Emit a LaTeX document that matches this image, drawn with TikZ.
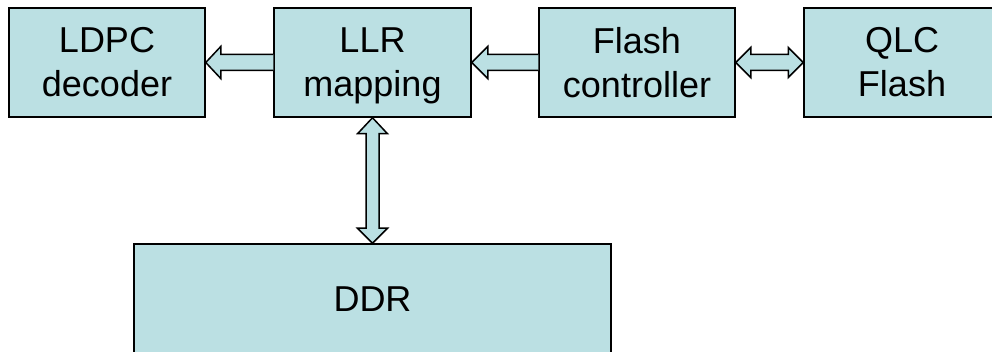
\documentclass[tikz,border=0pt]{standalone}
\usepackage{fontspec}
\setmainfont{Liberation Sans}
\usetikzlibrary{calc}
\definecolor{boxfill}{RGB}{187,224,227}
\begin{document}
\begin{tikzpicture}[x=1pt,y=-1pt,
  blk/.style={draw=black,line width=1.5pt,fill=boxfill,minimum width=196pt,
    minimum height=109pt,inner sep=0pt,align=center,
    font=\fontsize{36}{44}\selectfont},
  barrow/.style={draw=black,line width=1.5pt,fill=boxfill,line join=miter}]
\useasboundingbox (0,0) rectangle (992,352);
\clip (0,0) rectangle (992,352);

% blocks
\node[blk] (ldpc) at (107,62.5) {LDPC\\decoder};
\node[blk,minimum width=197pt] (llr) at (372.5,62.5) {LLR\\\raisebox{0pt}[\height][0pt]{mapping}};
\node[blk] (fc) at (637,62.5) {Flash\\controller};
\node[blk] (qlc) at (902,62.5) {QLC\\Flash};
\node[blk,minimum width=477pt,minimum height=110pt] (ddr) at (372.5,299) {DDR};

% LLR mapping -> LDPC decoder
\path[barrow] ($(llr.west)+(0,-8)$) -- ($(ldpc.east)+(15,-8)$) -- ($(ldpc.east)+(15,-16)$)
  -- (ldpc.east) -- ($(ldpc.east)+(15,16)$) -- ($(ldpc.east)+(15,8)$) -- ($(llr.west)+(0,8)$);

% Flash controller -> LLR mapping
\path[barrow] ($(fc.west)+(0,-8)$) -- ($(llr.east)+(16,-8)$) -- ($(llr.east)+(16,-16)$)
  -- (llr.east) -- ($(llr.east)+(16,16)$) -- ($(llr.east)+(16,8)$) -- ($(fc.west)+(0,8)$);

% Flash controller <-> QLC Flash
\path[barrow] (fc.east) -- ($(fc.east)+(15,-15)$) -- ($(fc.east)+(15,-8)$)
  -- ($(qlc.west)+(-15,-8)$) -- ($(qlc.west)+(-15,-15)$) -- (qlc.west)
  -- ($(qlc.west)+(-15,15)$) -- ($(qlc.west)+(-15,8)$)
  -- ($(fc.east)+(15,8)$) -- ($(fc.east)+(15,15)$) -- cycle;

% LLR mapping <-> DDR
\path[barrow] (llr.south) -- ($(llr.south)+(15,16)$) -- ($(llr.south)+(6.5,16)$)
  -- ($(ddr.north)+(6.5,-15)$) -- ($(ddr.north)+(15,-15)$) -- (ddr.north)
  -- ($(ddr.north)+(-15,-15)$) -- ($(ddr.north)+(-6.5,-15)$)
  -- ($(llr.south)+(-6.5,16)$) -- ($(llr.south)+(-15,16)$) -- cycle;
\end{tikzpicture}
\end{document}
